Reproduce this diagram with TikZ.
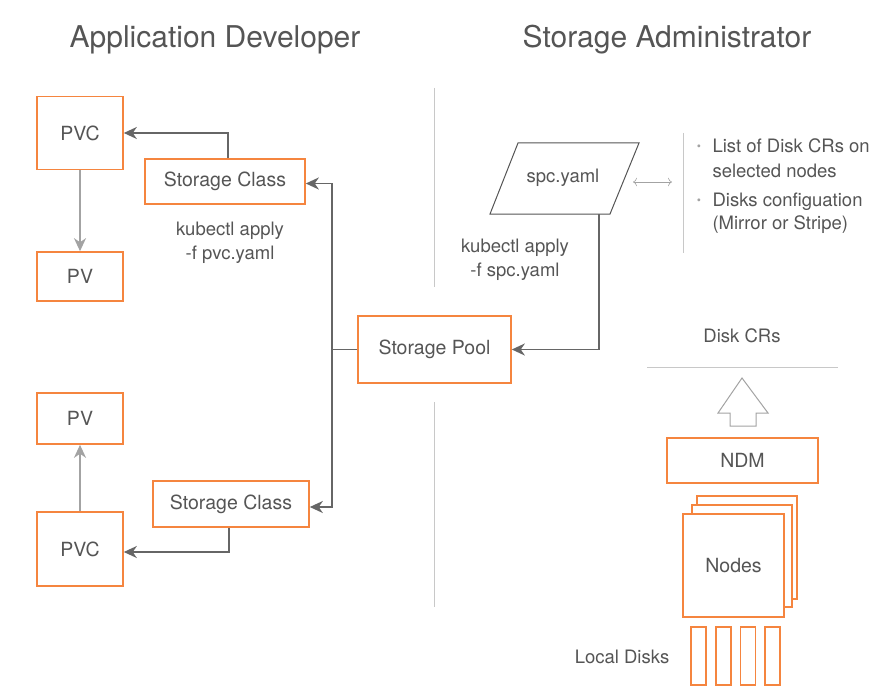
\documentclass[tikz,border=0pt]{standalone}
\usepackage{fontspec}
\setmainfont{TeX Gyre Heros}
\usepackage{tikz}
\usetikzlibrary{arrows.meta}
\definecolor{boxorange}{HTML}{F5853F}
\definecolor{txtgray}{HTML}{555555}
\definecolor{arrowgray}{HTML}{666666}
\definecolor{lightgray}{HTML}{A3A3A3}
\definecolor{rulegray}{HTML}{C8C8C8}
\tikzset{
  obox/.style={draw=boxorange, line width=1.6pt, fill=white, text=txtgray,
    font=\fontsize{19.5}{23}\selectfont, inner sep=0pt},
  label18/.style={text=txtgray, font=\fontsize{18.5}{24}\selectfont, align=center},
  darrow/.style={draw=arrowgray, line width=1.5pt, -{Stealth[length=13pt,width=12pt,inset=4pt]}},
  larrow/.style={draw=lightgray, line width=1.5pt, -{Stealth[length=13pt,width=12pt,inset=4pt]}},
  rule/.style={draw=rulegray, line width=1pt}
}
\begin{document}
\begin{tikzpicture}[x=1pt,y=-1pt]
			\useasboundingbox (0,0) rectangle (896,695);
			%%%%% TITLES %%%%%
			\node[text=txtgray, font=\fontsize{30}{34}\selectfont] (appdev) at (215,40) {Application Developer};
			\node[text=txtgray, font=\fontsize{30}{34}\selectfont] (storadm) at (667,40) {Storage Administrator};
			
			%%%%% DIVIDERS %%%%%
			\draw[rule] (434,88) -- (434,287);
			\draw[rule] (434,402) -- (434,607);
			\draw[rule] (683,133) -- (683,253);
			\draw[rule] (647,367) -- (838,367);
			
			%%%%% APPLICATION DEVELOPER %%%%%
			\node[obox, minimum width=86, minimum height=73] (pvcA) at (80,133) {PVC};
			\node[obox, minimum width=86, minimum height=49] (pvA) at (80,276.5) {PV};
			\node[obox, minimum width=160, minimum height=45] (scA) at (225,181.5) {Storage Class};
			\node[label18] (kubeA) at (230,243) {kubectl apply\\-f pvc.yaml};
			
			\node[obox, minimum width=86, minimum height=51] (pvB) at (80,418.5) {PV};
			\node[obox, minimum width=86, minimum height=74] (pvcB) at (80,549) {PVC};
			\node[obox, minimum width=156, minimum height=46] (scB) at (231,504) {Storage Class};
			
			\node[obox, minimum width=153, minimum height=67] (pool) at (434.5,349.5) {Storage Pool};
			
			\draw[darrow] ([xshift=3pt]scA.north) |- (pvcA.east);
			\draw[larrow] (pvcA.south) -- (pvA.north);
			\draw[darrow] ([xshift=-2pt]scB.south) |- ([yshift=-3pt]pvcB.east);
			\draw[larrow] (pvcB.north) -- (pvB.south);
			\draw[draw=arrowgray, line width=1.5pt] (pool.west) -- ++(-25,0) coordinate (bus);
			\draw[darrow] (bus) |- ([yshift=-2pt]scA.east);
			\draw[darrow] (bus) |- ([yshift=-3pt]scB.east);
			
			%%%%% STORAGE ADMINISTRATOR %%%%%
			\draw[draw=txtgray, line width=1pt, fill=white] (518,143) -- (639,143) -- (610,214) -- (490,214) -- cycle;
			\node[text=txtgray, font=\fontsize{18.5}{22}\selectfont] (spc) at (563,178) {spc.yaml};
			\coordinate (spcfoot) at (599,214);
			\node[label18] (kubeB) at (515,260) {kubectl apply\\-f spc.yaml};
			\draw[darrow] (spcfoot) |- (pool.east);
			
			\coordinate (dblL) at (633,182);
			\coordinate (dblR) at (672,182);
			\draw[draw=lightgray, line width=0.6pt, {To[length=4pt]}-{To[length=4pt]}] (dblL) -- (dblR);
			
			\node[text=lightgray, font=\fontsize{12}{12}\selectfont] (bulA) at (699,148) {\textbullet};
			\node[text=txtgray, font=\fontsize{18.5}{25}\selectfont, align=left, anchor=north west] (crlist) at (709,135) {List of Disk CRs on\\selected nodes};
			\node[text=lightgray, font=\fontsize{12}{12}\selectfont] (bulB) at (699,202) {\textbullet};
			\node[text=txtgray, font=\fontsize{18.5}{23}\selectfont, align=left, anchor=north west] (dskcfg) at (709,189) {Disks configuation\\(Mirror or Stripe)};
			
			\node[label18] (diskcrs) at (742,336) {Disk CRs};
			\draw[draw=lightgray, line width=1pt, fill=white] (742,378) -- (768,413) -- (756,413) -- (756,426) -- (730,426) -- (730,413) -- (718,413) -- cycle;
			
			\node[obox, minimum width=151, minimum height=45] (ndm) at (742.5,460.5) {NDM};
			\node[obox, minimum width=100, minimum height=103] (nodeC) at (747,547.5) {};
			\node[obox, minimum width=100, minimum height=102] (nodeB) at (742,556) {};
			\node[obox, minimum width=101, minimum height=103] (nodeA) at (733.5,565.5) {Nodes};
			
			\foreach \i in {0,...,3}
				\node[obox, minimum width=15, minimum height=58] (disk\i) at (698.5+24.7*\i,656) {};
			\node[label18] (localdisks) at (622,657) {Local Disks};
		\end{tikzpicture}
\end{document}
